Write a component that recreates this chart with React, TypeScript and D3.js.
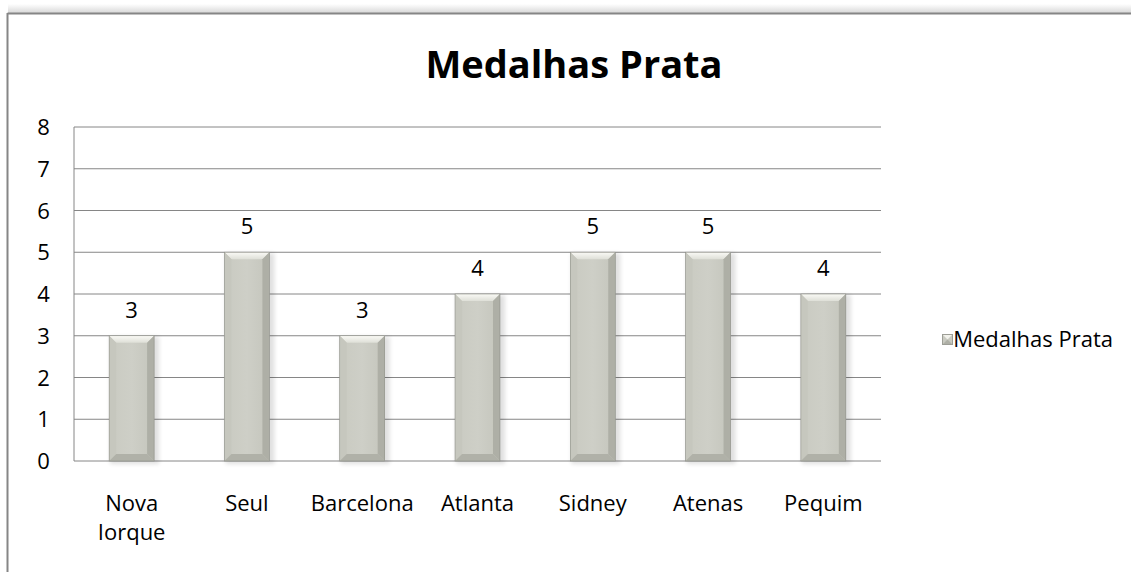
import React from 'react'
import * as d3 from 'd3'

// chart data
const cities = ['Nova Iorque', 'Seul', 'Barcelona', 'Atlanta', 'Sidney', 'Atenas', 'Pequim']
const silverMedals = [3, 5, 3, 4, 5, 5, 4]
const yTicks = [0, 1, 2, 3, 4, 5, 6, 7, 8]
const seriesName = 'Medalhas Prata'

const FONT = '"Open Sans", Carlito, Calibri, sans-serif'
const LABEL_SIZE = 22

const App = () => {
  const width = 1131,
    height = 572

  // plot area
  const left = 74,
    right = 881,
    top = 127,
    bottom = 461

  const x = d3.scaleBand<string>().domain(cities).range([left, right]).paddingInner(0.61).paddingOuter(0.305)
  const y = d3.scaleLinear().domain([0, 8]).range([bottom, top])

  const bw = x.bandwidth()
  const bev = 7

  const bars = cities.map((c, i) => {
    const x0 = x(c) as number
    const x1 = x0 + bw
    const y0 = y(silverMedals[i])
    const y1 = y(0)
    return (
      <g key={c}>
        {/* soft shadow */}
        <rect x={x0 + 1} y={y0 + 1} width={bw + 4} height={y1 - y0 + 2} fill="#000" opacity={0.12} filter="url(#blur)" />
        <rect x={x0} y={y0} width={bw} height={y1 - y0} fill="url(#face)" />
        {/* bevel edges */}
        <polygon points={`${x0},${y0} ${x1},${y0} ${x1 - bev},${y0 + bev} ${x0 + bev},${y0 + bev}`} fill="url(#bevTop)" />
        <polygon points={`${x0},${y0} ${x0 + bev},${y0 + bev} ${x0 + bev},${y1 - bev} ${x0},${y1}`} fill="#c6c7be" />
        <polygon points={`${x1},${y0} ${x1},${y1} ${x1 - bev},${y1 - bev} ${x1 - bev},${y0 + bev}`} fill="#aeafa6" />
        <polygon points={`${x0},${y1} ${x0 + bev},${y1 - bev} ${x1 - bev},${y1 - bev} ${x1},${y1}`} fill="#b0b1a8" />
        <rect x={x0} y={y0} width={bw} height={y1 - y0} fill="none" stroke="#8e8f88" strokeWidth={0.6} />
        <text x={x0 + bw / 2} y={y0 - 18} textAnchor="middle" fontSize={LABEL_SIZE} fontFamily={FONT} fill="#000">
          {silverMedals[i]}
        </text>
      </g>
    )
  })

  // y axis labels and gridlines
  const yLabels = yTicks.map(t => (
    <g key={t}>
      <line x1={left} x2={right} y1={y(t)} y2={y(t)} stroke="#868686" strokeWidth={1} />
      <text x={43.5} y={y(t) + 8} textAnchor="middle" fontSize={LABEL_SIZE} fontFamily={FONT} fill="#000">
        {t}
      </text>
    </g>
  ))

  // category labels, wrapping long names
  const xLabels = cities.map(c => {
    const parts = c === 'Nova Iorque' ? ['Nova', 'Iorque'] : [c]
    const cx = (x(c) as number) + bw / 2
    return (
      <text key={c} x={cx} y={511} textAnchor="middle" fontSize={LABEL_SIZE} fontFamily={FONT} fill="#000">
        {parts.map((p, i) => (
          <tspan key={p} x={cx} dy={i === 0 ? 0 : 29}>
            {p}
          </tspan>
        ))}
      </text>
    )
  })

  return (
    <svg width={width} height={height} style={{ position: 'absolute', left: 0, top: 0, background: '#fff' }}>
      <defs>
        <linearGradient id="face" x1="0" x2="1" y1="0" y2="0">
          <stop offset="0" stopColor="#c9cac1" />
          <stop offset="0.5" stopColor="#cecfc7" />
          <stop offset="1" stopColor="#c4c5bc" />
        </linearGradient>
        <linearGradient id="bevTop" x1="0" x2="0" y1="0" y2="1">
          <stop offset="0" stopColor="#fafaf6" />
          <stop offset="1" stopColor="#dedfd7" />
        </linearGradient>
        <linearGradient id="frameShadow" x1="0" x2="0" y1="0" y2="1">
          <stop offset="0" stopColor="#fff" />
          <stop offset="1" stopColor="#d8d8d8" />
        </linearGradient>
        <filter id="blur" x="-20%" y="-5%" width="140%" height="110%">
          <feGaussianBlur stdDeviation="2" />
        </filter>
      </defs>

      {/* chart frame */}
      <rect x={8} y={4} width={width} height={9} fill="url(#frameShadow)" />
      <line x1={7.5} x2={width} y1={13.5} y2={13.5} stroke="#868686" strokeWidth={2} />
      <line x1={7.5} x2={7.5} y1={13} y2={height} stroke="#868686" strokeWidth={2} />

      <text x={574} y={78} textAnchor="middle" fontSize={38} fontWeight="bold" fontFamily={FONT} fill="#000">
        Medalhas Prata
      </text>

      {yLabels}
      <line x1={left} x2={left} y1={top} y2={bottom} stroke="#868686" strokeWidth={1} />
      {bars}
      {xLabels}

      {/* legend */}
      <rect x={942.5} y={334.5} width={10} height={10} fill="#c9cac1" stroke="#9d9e96" />
      <polygon points="943,335 952,335 947.5,339.5" fill="#f2f2ec" />
      <polygon points="943,344 952,344 947.5,339.5" fill="#aeafa6" />
      <text x={1113} y={347} textAnchor="end" fontSize={LABEL_SIZE} fontFamily={FONT} fill="#000">
        {seriesName}
      </text>
    </svg>
  )
}

export default App
